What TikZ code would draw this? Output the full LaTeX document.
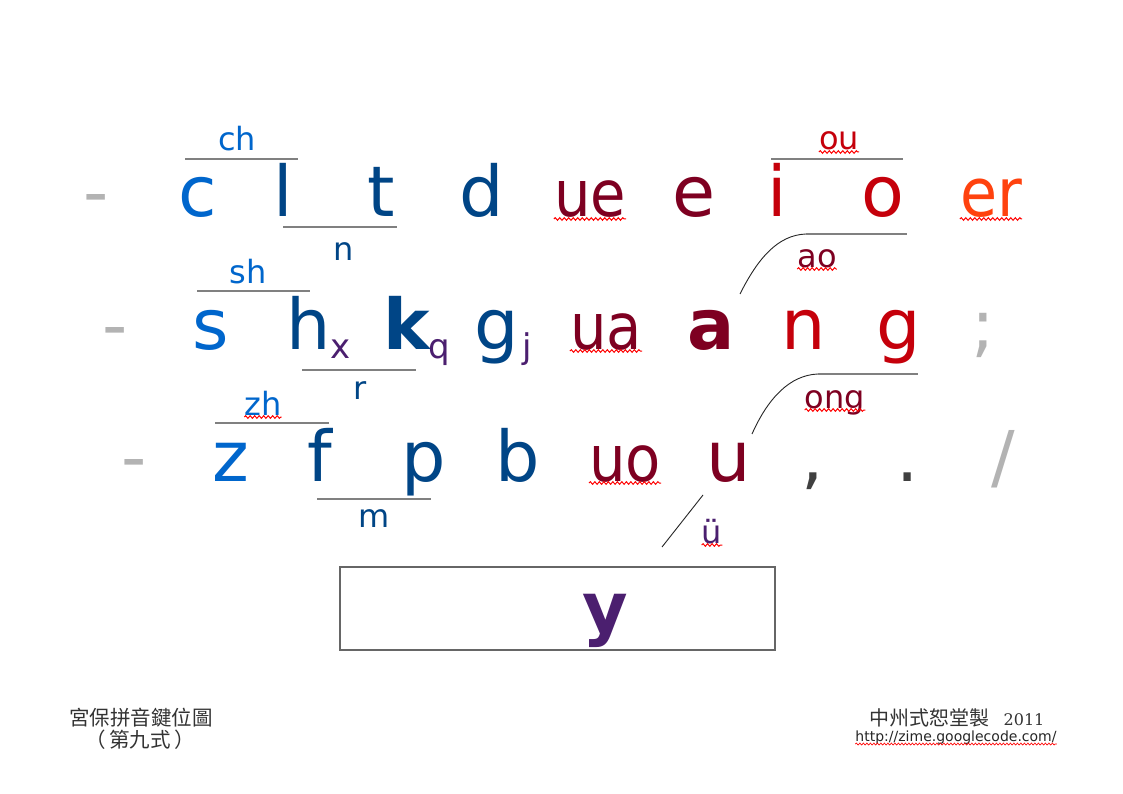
\documentclass[tikz,border=0pt]{standalone}
\usepackage{fontspec}
\setmainfont{DejaVu Sans}
\newfontfamily\cjk{Noto Sans CJK TC}
\newfontfamily\serifnum{DejaVu Serif}
\newfontfamily\condensed{DejaVu Sans Condensed}
\usetikzlibrary{decorations.pathmorphing,calc}
\definecolor{cblue}{HTML}{0066CC}
\definecolor{dblue}{HTML}{004586}
\definecolor{maroon}{HTML}{7E0021}
\definecolor{purp}{HTML}{4B1F6F}
\definecolor{rd}{HTML}{C5000B}
\definecolor{orng}{HTML}{FF420E}
\definecolor{lgray}{HTML}{B3B3B3}
\definecolor{dgray}{HTML}{404040}
\definecolor{rulegray}{HTML}{808080}
\tikzset{
  keyglyph/.style={inner sep=0pt, anchor=base, font=\fontsize{70}{80}\selectfont},
  keypair/.style={keyglyph, font=\condensed\fontsize{64}{76}\selectfont},
  keybold/.style={keyglyph, font=\fontsize{70}{80}\selectfont\bfseries},
  lab/.style={inner sep=0pt, anchor=base, font=\fontsize{32}{38}\selectfont},
  subl/.style={inner sep=0pt, anchor=base, font=\fontsize{34}{40}\selectfont},
  rulel/.style={rulegray, line width=2pt},
  hookl/.style={black!85, line width=0.9pt},
  spell/.style={red, line width=1pt, decorate, decoration={snake, amplitude=1.3pt, segment length=4.5pt}},
  foot/.style={inner sep=0pt, anchor=base, text=black!80}
}
\newcommand\spellmark[1]{\draw[spell] ($(#1.base west)+(0,2)$) -- ($(#1.base east)+(0,2)$);}
\begin{document}
\begin{tikzpicture}[x=1pt,y=-1pt]
\path[use as bounding box, fill=white] (0,0) rectangle (1123,794);
% Row 1
\node[keyglyph, text=lgray] (dash1) at (96,217) {-};
\node[keyglyph, text=cblue] (c) at (198,217) {c};
\node[keyglyph, text=dblue] (l) at (283,217) {l};
\node[keyglyph, text=dblue] (t) at (381,217) {t};
\node[keyglyph, text=dblue] (d) at (482,217) {d};
\node[keypair, text=maroon] (ue) at (590,217) {ue};
\node[keyglyph, text=maroon] (e) at (694,217) {e};
\node[keyglyph, text=rd] (i) at (777,217) {i};
\node[keyglyph, text=rd] (o) at (883,217) {o};
\node[keypair, text=orng, font=\condensed\fontsize{67}{76}\selectfont] (er) at (991,217) {er};
% Row 1 labels
\coordinate (chL) at (185,159); \coordinate (chR) at (298,159);
\draw[rulel] (chL) -- (chR);
\node[lab, text=cblue] (ch) at (237,151) {ch};
\coordinate (nL) at (283,227); \coordinate (nR) at (397,227);
\draw[rulel] (nL) -- (nR);
\node[lab, text=dblue] (nlab) at (344,260) {n};
\coordinate (ouL) at (771,159); \coordinate (ouR) at (903,159);
\draw[rulel] (ouL) -- (ouR);
\node[lab, text=rd] (ou) at (839,150) {ou};
\coordinate (aoS) at (740,294); \coordinate (aoT) at (806,234); \coordinate (aoR) at (907,234);
\draw[hookl] (aoS) .. controls (758,258) and (778,235) .. (aoT);
\draw[rulel] (aoT) -- (aoR);
\node[lab, text=maroon] (ao) at (817,267) {ao};
% Row 2
\node[keyglyph, text=lgray] (dash2) at (115,349) {-};
\node[keyglyph, text=cblue] (s) at (211,349) {s};
\node[keyglyph, text=dblue] (h) at (309,349) {h};
\node[subl, text=purp] (x) at (341,358) {x};
\node[keybold, text=dblue] (k) at (407,349) {k};
\node[subl, text=purp] (q) at (439,358) {q};
\node[keyglyph, text=dblue] (g) at (497,349) {g};
\node[subl, text=purp] (j) at (527,358) {j};
\node[keypair, text=maroon] (ua) at (606,349) {ua};
\node[keybold, text=maroon] (a) at (711,349) {a};
\node[keyglyph, text=rd] (n) at (804,349) {n};
\node[keyglyph, text=rd] (g2) at (899,349) {g};
\node[keyglyph, text=lgray] (semi) at (983,349) {;};
% Row 2 labels
\coordinate (shL) at (197,291); \coordinate (shR) at (310,291);
\draw[rulel] (shL) -- (shR);
\node[lab, text=cblue] (sh) at (248,283) {sh};
\coordinate (rL) at (302,370); \coordinate (rR) at (416,370);
\draw[rulel] (rL) -- (rR);
\node[lab, text=dblue] (rlab) at (360,399) {r};
\coordinate (ongS) at (752,434); \coordinate (ongT) at (818,374); \coordinate (ongR) at (918,374);
\draw[hookl] (ongS) .. controls (768,398) and (790,375) .. (ongT);
\draw[rulel] (ongT) -- (ongR);
\node[lab, text=maroon] (ong) at (835,408) {ong};
% Row 3
\node[keyglyph, text=lgray] (dash3) at (134,481) {-};
\node[keyglyph, text=cblue] (z) at (231,481) {z};
\node[keyglyph, text=dblue] (f) at (320,481) {f};
\node[keyglyph, text=dblue] (p) at (424,481) {p};
\node[keyglyph, text=dblue] (b) at (518,481) {b};
\node[keypair, text=maroon] (uo) at (625,481) {uo};
\node[keyglyph, text=maroon] (u) at (729,481) {u};
\node[keyglyph, text=dgray] (comma) at (813,481) {,};
\node[keyglyph, text=dgray] (period) at (908,481) {.};
\node[keyglyph, text=lgray] (slash) at (1003,481) {/};
% Row 3 labels
\coordinate (zhL) at (215,423); \coordinate (zhR) at (329,423);
\draw[rulel] (zhL) -- (zhR);
\node[lab, text=cblue] (zh) at (263,415) {zh};
\coordinate (mL) at (317,499); \coordinate (mR) at (431,499);
\draw[rulel] (mL) -- (mR);
\node[lab, text=dblue] (mlab) at (374,527) {m};
\coordinate (uuA) at (703,495); \coordinate (uuB) at (662,547);
\draw[hookl] (uuA) -- (uuB);
\node[lab, text=purp] (uu) at (712,543) {ü};
% Space bar
\node[draw=black!60, line width=1.5pt, minimum width=435pt, minimum height=83pt, inner sep=0pt] (space) at (557.5,608.5) {};
\node[keybold, text=purp] (y) at (605,632) {y};
% Spell-check marks
\spellmark{ue}\spellmark{er}\spellmark{ou}\spellmark{ua}\spellmark{ao}
\spellmark{zh}\spellmark{uo}\spellmark{ong}\spellmark{uu}
% Footer
\node[foot, font=\cjk\fontsize{20.5}{24}\selectfont] (title) at (141,725) {宮保拼音鍵位圖};
\node[foot, font=\cjk\fontsize{20.5}{24}\selectfont] (subtitle) at (140,747) {（\,第九式\,）};
\node[foot, font=\cjk\fontsize{20}{24}\selectfont] (maker) at (929,725) {中州式恕堂製};
\node[foot, font=\serifnum\fontsize{16}{20}\selectfont] (year) at (1024,725) {2011};
\node[foot, font=\fontsize{14}{18}\selectfont, text=black!85] (url) at (956,741) {http://zime.googlecode.com/};
\draw[spell, line width=0.7pt, decoration={snake, amplitude=0.9pt, segment length=3.5pt}] ($(url.base west)+(0,3)$) -- ($(url.base east)+(0,3)$);
\end{tikzpicture}
\end{document}
